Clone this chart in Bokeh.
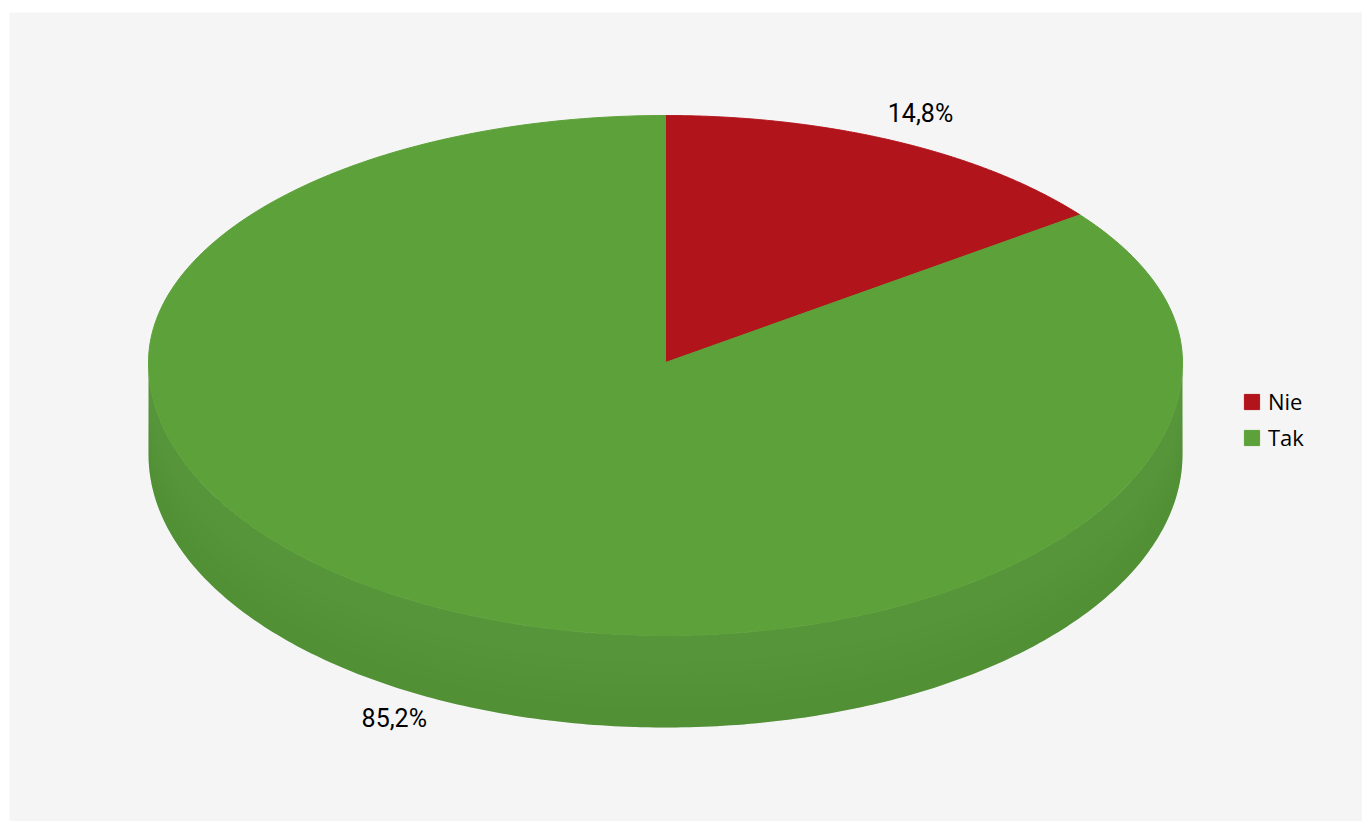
import numpy as np
from bokeh.plotting import figure
from bokeh.models import ColumnDataSource, Range1d, Legend, LegendItem
from bokeh.core.properties import value
from bokeh.embed import file_html
from bokeh.resources import INLINE

# ---- data ----
categories = ["Nie", "Tak"]
shares = [14.8, 85.2]
value_labels = ["14,8%", "85,2%"]
colors = ["#b2141b", "#5da13a"]
side_color = "#57953a"

# ---- geometry / style ----
W, H = 1362, 821
LEFT, TOP = 9, 12
CX, CY = 665, 362
RX, RYB, RYF, DEPTH = 517, 247, 273, 92
label_offsets = [(0, -6), (0, 70)]   # tweak of label position (px) per slice
label_k = [1.10, 1.17]


def ell(theta):
    theta = np.asarray(theta, dtype=float)
    s = np.sin(theta)
    x = CX + RX * np.cos(theta)
    y = np.where(s >= 0, CY - RYB * s, CY - RYF * s)
    return x, y


p = figure(width=W, height=H, x_range=Range1d(LEFT, W), y_range=Range1d(H, TOP),
           output_backend="svg", toolbar_location=None,
           min_border_left=LEFT, min_border_top=TOP, min_border_right=0, min_border_bottom=0,
           x_axis_location=None, y_axis_location=None)
p.grid.visible = False
p.outline_line_color = None
p.background_fill_color = "#f5f5f5"
p.border_fill_color = "#ffffff"

# side (front band) of the 3D pie
t = np.linspace(np.pi, 2 * np.pi, 240)
tx, ty = ell(t)
side_x = np.concatenate([tx, tx[::-1]])
side_y = np.concatenate([ty, (ty + DEPTH)[::-1]])
p.patch(side_x, side_y, fill_color=side_color, line_color=None)
# soft darker shading toward the lower part of the side
for f in np.linspace(0.3, 0.8, 5):
    bx = np.concatenate([tx, tx[::-1]])
    by = np.concatenate([ty + DEPTH * f, (ty + DEPTH)[::-1]])
    p.patch(bx, by, fill_color="#3f7a2c", fill_alpha=0.025, line_color=None)

# top slices
total = float(sum(shares))
xs, ys, mids = [], [], []
cum = 0.0
for v in shares:
    a0 = np.pi / 2 - 2 * np.pi * cum / total
    a1 = np.pi / 2 - 2 * np.pi * (cum + v) / total
    th = np.linspace(a0, a1, 300)
    ex, ey = ell(th)
    xs.append(np.concatenate([[CX], ex]).tolist())
    ys.append(np.concatenate([[CY], ey]).tolist())
    mids.append((a0 + a1) / 2)
    cum += v

src = ColumnDataSource(dict(xs=xs, ys=ys, color=colors, cat=categories))
r = p.patches("xs", "ys", source=src, fill_color="color", line_color="color", line_width=1)

# value labels
lx, ly = [], []
for m, k, (dx, dy) in zip(mids, label_k, label_offsets):
    ex, ey = ell([m])
    lx.append(CX + (ex[0] - CX) * k + dx)
    ly.append(CY + (ey[0] - CY) * k + dy)
lsrc = ColumnDataSource(dict(x=lx, y=ly, text=value_labels))
p.text("x", "y", text="text", source=lsrc, text_font=value("Roboto"),
       text_font_size="25px", text_color="#000000", text_align="center", text_baseline="middle")

frame_h = H - TOP
legend = Legend(items=[LegendItem(label=c, renderers=[r], index=i) for i, c in enumerate(categories)],
                location=(1242 - LEFT, frame_h - (386 - TOP) - 66),
                glyph_width=19, glyph_height=19, label_height=22, label_standoff=7,
                spacing=6, padding=0, margin=0,
                label_text_font="Open Sans", label_text_font_size="22px", label_text_color="#000000",
                border_line_alpha=0, background_fill_alpha=0)
p.add_layout(legend)

open("out.html", "w").write(file_html(p, INLINE))
